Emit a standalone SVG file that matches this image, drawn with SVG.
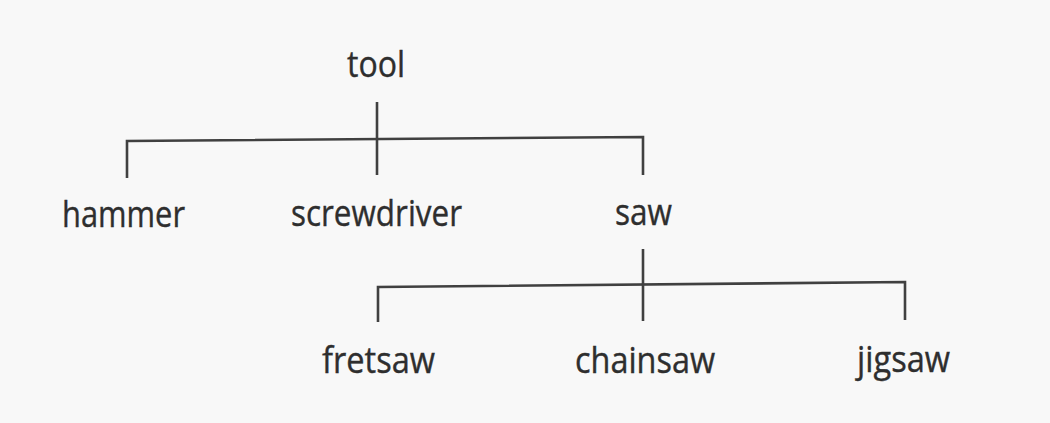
<svg xmlns="http://www.w3.org/2000/svg" width="1050" height="423" viewBox="0 0 1050 423">
<style>
.lbl{font-family:"Open Sans","Noto Sans","Liberation Sans",sans-serif;font-size:37px;fill:#2e2e2e;stroke:#2e2e2e;stroke-width:0.4}
.edge{stroke:#404040;stroke-width:2.6;fill:none;stroke-linecap:butt}
</style>
<rect width="1050" height="423" fill="#f8f8f8"/>
<g id="connectors">
<path class="edge" d="M377,102 V175"/>
<path class="edge" d="M127,178 V141 L643,137 V175"/>
<path class="edge" d="M643,249 V321"/>
<path class="edge" d="M378,322 V287 L905,282 V320"/>
</g>
<g id="tool"><text class="lbl" x="347" y="77" textLength="58" lengthAdjust="spacingAndGlyphs">tool</text></g>
<g id="hammer"><text class="lbl" x="62" y="227" textLength="123" lengthAdjust="spacingAndGlyphs">hammer</text></g>
<g id="screwdriver"><text class="lbl" x="291" y="226" textLength="171" lengthAdjust="spacingAndGlyphs">screwdriver</text></g>
<g id="saw"><text class="lbl" x="615" y="225" textLength="57" lengthAdjust="spacingAndGlyphs">saw</text></g>
<g id="fretsaw"><text class="lbl" x="322" y="373" textLength="113" lengthAdjust="spacingAndGlyphs">fretsaw</text></g>
<g id="chainsaw"><text class="lbl" x="575" y="373" textLength="140" lengthAdjust="spacingAndGlyphs">chainsaw</text></g>
<g id="jigsaw"><text class="lbl" x="857" y="372" textLength="93" lengthAdjust="spacingAndGlyphs">jigsaw</text></g>
</svg>
